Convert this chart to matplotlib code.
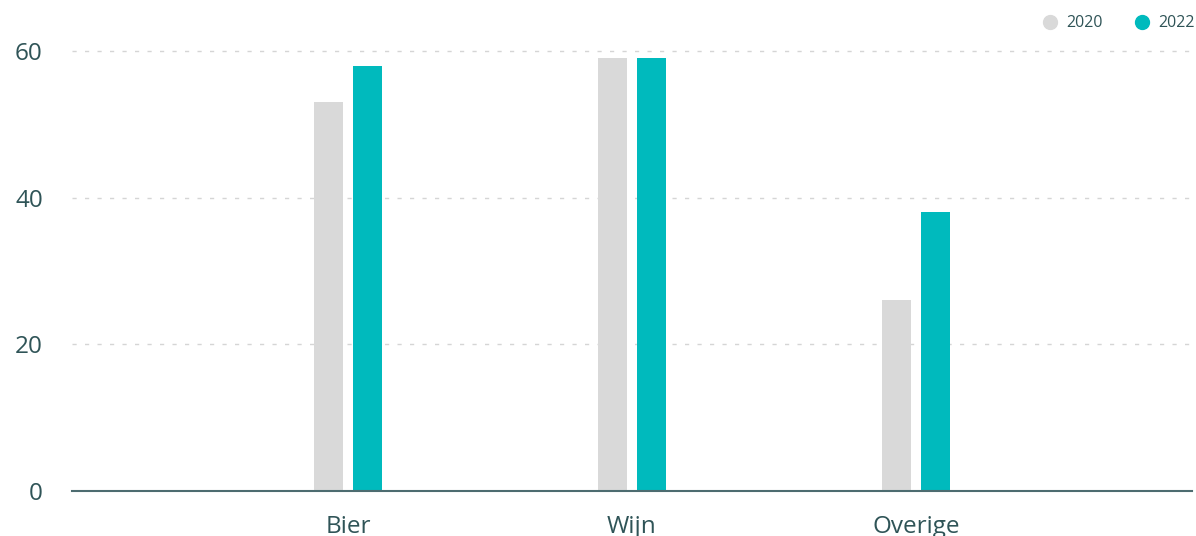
import matplotlib
matplotlib.use("Agg")
import matplotlib.pyplot as plt
from matplotlib.lines import Line2D
import numpy as np

categories = ["Bier", "Wijn", "Overige"]
series_names = ["2020", "2022"]
values_2020 = [53, 59, 26]
values_2022 = [58, 59, 38]
yticks = [0, 20, 40, 60]

col_2020 = "#d9d9d9"
col_2022 = "#00babd"
text_col = "#2f5457"
axis_col = "#4d6c70"

plt.rcParams['font.family'] = ['Open Sans', 'DejaVu Sans']

W, H = 1196, 536
fig = plt.figure(figsize=(W/100, H/100), dpi=100)
ax = fig.add_axes([72/W, (H-491)/H, (1192-72)/W, (491-51)/H])

x = np.arange(len(categories))
unit = 284.0
bw = 29/unit
off = 19.5/unit
ax.bar(x - off, values_2020, width=bw, color=col_2020, zorder=3)
ax.bar(x + off, values_2022, width=bw, color=col_2022, zorder=3)

ax.set_xlim(-276/unit, 2 + 276/unit)
ax.set_ylim(0, 60)
ax.set_xticks(x)
ax.set_xticklabels(categories)
ax.set_yticks(yticks)
ax.tick_params(axis='both', length=0, labelsize=17.5, labelcolor=text_col)
ax.tick_params(axis='x', pad=17.5)
ax.tick_params(axis='y', pad=21)

for s in ["top", "right", "left"]:
    ax.spines[s].set_visible(False)
ax.spines["bottom"].set_color(axis_col)
ax.spines["bottom"].set_linewidth(1.5)
ax.spines["bottom"].set_zorder(4)

for yv in yticks[1:]:
    ax.axhline(yv, color="#d5d5d5", lw=1, linestyle=(0, (3, 6)), zorder=1, clip_on=False)

# legend (manual placement in figure pixels)
leg_items = [(1050, 1066, col_2020, series_names[0]), (1142, 1158, col_2022, series_names[1])]
for mx, tx, c, name in leg_items:
    fig.add_artist(Line2D([mx/W], [1 - 22/H], marker='o', linestyle='', markersize=10,
                          color=c, transform=fig.transFigure))
    fig.text(tx/W, 1 - 23/H, name, color=text_col, fontsize=11.5, va='center', ha='left')

fig.savefig("out.png", dpi=100)
